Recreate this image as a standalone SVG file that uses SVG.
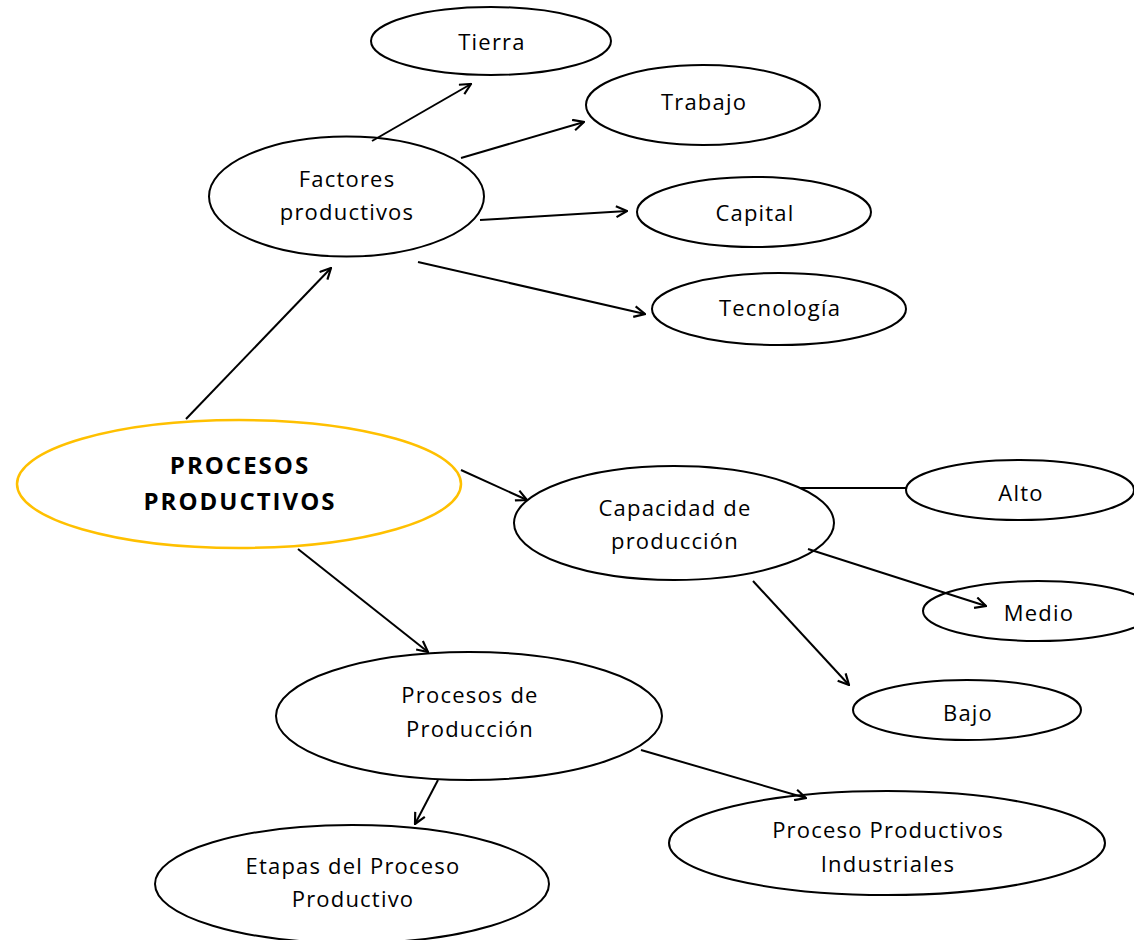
<svg xmlns="http://www.w3.org/2000/svg" width="1134" height="940" viewBox="0 0 1134 940">
  <style>
    .node { fill: #ffffff; stroke: #000000; stroke-width: 2; }
    .main { fill: #ffffff; stroke: #FFC000; stroke-width: 2.5; }
    .lbl { font-family: "Open Sans", "Liberation Sans", sans-serif; font-size: 22px; letter-spacing: 1.2px; fill: #000000; text-anchor: middle; dominant-baseline: central; }
    .bold { font-weight: bold; font-size: 24px; letter-spacing: 2px; }
    .edge { fill: none; stroke: #000000; stroke-width: 2; }
  </style>
  <defs>
    <marker id="arrow" viewBox="0 0 12 12" refX="11" refY="6" markerWidth="13" markerHeight="13" markerUnits="userSpaceOnUse" orient="auto">
      <path d="M1,1 L11,6 L1,11" fill="none" stroke="#000000" stroke-width="2"/>
    </marker>
  </defs>

  <rect width="1134" height="940" fill="#ffffff"/>

  <g id="tierra">
    <ellipse class="node" cx="491" cy="41" rx="120" ry="34"/>
    <text class="lbl" x="492" y="41">Tierra</text>
  </g>
  <g id="trabajo">
    <ellipse class="node" cx="703" cy="105" rx="117" ry="40"/>
    <text class="lbl" x="704" y="101">Trabajo</text>
  </g>
  <g id="factores">
    <ellipse class="node" cx="346.5" cy="196.5" rx="137.5" ry="60"/>
    <text class="lbl" x="347" y="178">Factores</text>
    <text class="lbl" x="347" y="211">productivos</text>
  </g>
  <g id="capital">
    <ellipse class="node" cx="754" cy="212" rx="117" ry="35"/>
    <text class="lbl" x="755" y="212">Capital</text>
  </g>
  <g id="tecnologia">
    <ellipse class="node" cx="779" cy="309" rx="127" ry="36"/>
    <text class="lbl" x="780" y="307">Tecnología</text>
  </g>
  <g id="procesos-productivos">
    <ellipse class="main" cx="239" cy="484" rx="222" ry="64"/>
    <text class="lbl bold" x="240" y="464">PROCESOS</text>
    <text class="lbl bold" x="240" y="500">PRODUCTIVOS</text>
  </g>
  <g id="capacidad">
    <ellipse class="node" cx="674" cy="523" rx="160" ry="57"/>
    <text class="lbl" x="675" y="507">Capacidad de</text>
    <text class="lbl" x="675" y="540">producción</text>
  </g>
  <g id="alto">
    <ellipse class="node" cx="1020" cy="490" rx="114" ry="30"/>
    <text class="lbl" x="1021" y="492">Alto</text>
  </g>
  <g id="medio">
    <ellipse class="node" cx="1038" cy="611" rx="115" ry="30"/>
    <text class="lbl" x="1039" y="612">Medio</text>
  </g>
  <g id="bajo">
    <ellipse class="node" cx="967" cy="710" rx="114" ry="30"/>
    <text class="lbl" x="968" y="712">Bajo</text>
  </g>
  <g id="procesos-produccion">
    <ellipse class="node" cx="469" cy="716" rx="193" ry="64"/>
    <text class="lbl" x="470" y="694">Procesos de</text>
    <text class="lbl" x="470" y="728">Producción</text>
  </g>
  <g id="etapas">
    <ellipse class="node" cx="352" cy="884" rx="197" ry="59"/>
    <text class="lbl" x="353" y="865">Etapas del Proceso</text>
    <text class="lbl" x="353" y="898">Productivo</text>
  </g>
  <g id="industriales">
    <ellipse class="node" cx="887" cy="843" rx="218" ry="52"/>
    <text class="lbl" x="888" y="829">Proceso Productivos</text>
    <text class="lbl" x="888" y="863">Industriales</text>
  </g>

  <!-- connectors, drawn on top of the ellipses -->
  <g id="connectors">
    <line class="edge" x1="372" y1="141" x2="471" y2="84" marker-end="url(#arrow)"/>
    <line class="edge" x1="461" y1="158" x2="584" y2="122" marker-end="url(#arrow)"/>
    <line class="edge" x1="480" y1="220" x2="627" y2="211" marker-end="url(#arrow)"/>
    <line class="edge" x1="418" y1="262" x2="645" y2="314" marker-end="url(#arrow)"/>
    <line class="edge" x1="186" y1="419" x2="331" y2="268" marker-end="url(#arrow)"/>
    <line class="edge" x1="461" y1="470" x2="527" y2="500" marker-end="url(#arrow)"/>
    <line class="edge" x1="298" y1="549" x2="428" y2="652" marker-end="url(#arrow)"/>
    <line class="edge" x1="800" y1="488" x2="906" y2="488"/>
    <line class="edge" x1="808" y1="549" x2="986" y2="606" marker-end="url(#arrow)"/>
    <line class="edge" x1="753" y1="581" x2="849" y2="685" marker-end="url(#arrow)"/>
    <line class="edge" x1="438" y1="780" x2="415" y2="824" marker-end="url(#arrow)"/>
    <line class="edge" x1="641" y1="750" x2="806" y2="798" marker-end="url(#arrow)"/>
  </g>
</svg>
